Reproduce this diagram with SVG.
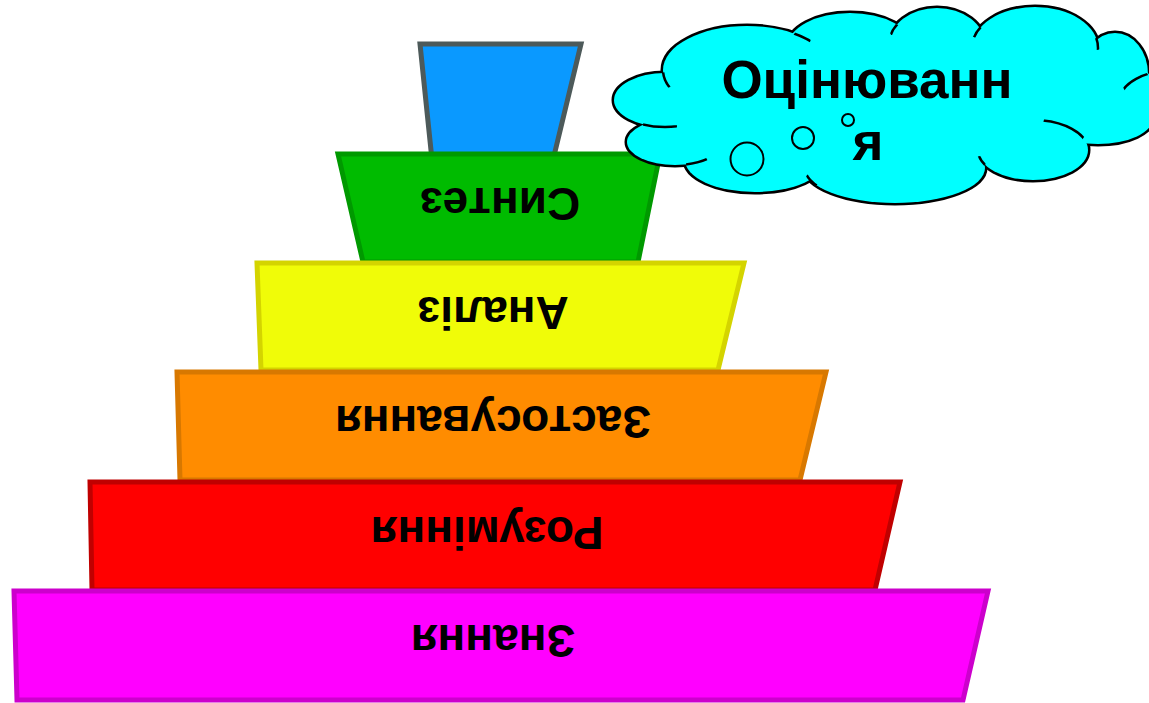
<svg xmlns="http://www.w3.org/2000/svg" width="1149" height="703" viewBox="0 0 1149 703">
<style>
.lvl{stroke-width:5;stroke-linejoin:miter}
.t{font-family:"Liberation Sans",Arial,sans-serif;font-weight:bold;font-size:46px;fill:#000;text-anchor:middle}
.ct{font-family:"Liberation Sans",Arial,sans-serif;font-weight:bold;font-size:53px;fill:#000;text-anchor:middle}
.cs{fill:none;stroke:#000;stroke-width:5}
.cf{fill:#00ffff;stroke:none}
.ca{fill:none;stroke:#000;stroke-width:2.5}
.bub{fill:#00ffff;stroke:#000;stroke-width:2}
</style>
<defs>
<ellipse id="L" cx="665" cy="100" rx="51" ry="27"/>
<ellipse id="LL" cx="675" cy="142" rx="48" ry="23"/>
<ellipse id="A" cx="755" cy="160" rx="70" ry="32"/>
<ellipse id="B" cx="895" cy="168" rx="90" ry="35"/>
<ellipse id="C" cx="1033" cy="150" rx="55" ry="30"/>
<ellipse id="RB" cx="1098" cy="118" rx="55" ry="26"/>
<ellipse id="FR" cx="1175" cy="100" rx="55" ry="30"/>
<ellipse id="R" cx="1115" cy="74" rx="33" ry="41"/>
<ellipse id="T3" cx="1035" cy="48" rx="63" ry="41"/>
<ellipse id="T2" cx="937" cy="45" rx="48" ry="37"/>
<ellipse id="T1" cx="850" cy="46" rx="62" ry="33"/>
<ellipse id="UL" cx="747" cy="70" rx="84" ry="44"/>
<g id="lobes">
<use href="#L"/><use href="#LL"/><use href="#A"/><use href="#B"/><use href="#C"/><use href="#RB"/>
<use href="#FR"/><use href="#R"/><use href="#T3"/><use href="#T2"/><use href="#T1"/><use href="#UL"/>
</g>
<clipPath id="k1"><circle cx="660" cy="126" r="17"/></clipPath>
<clipPath id="k2"><circle cx="697" cy="164" r="11"/></clipPath>
<clipPath id="k3"><circle cx="666" cy="80" r="8"/></clipPath>
<clipPath id="k4"><circle cx="802" cy="38" r="9"/></clipPath>
<clipPath id="k5"><circle cx="895" cy="30" r="6"/></clipPath>
<clipPath id="k6"><circle cx="977" cy="32" r="6"/></clipPath>
<clipPath id="k7"><circle cx="1097" cy="44" r="6"/></clipPath>
<clipPath id="k8"><circle cx="1136" cy="82" r="14"/></clipPath>
<clipPath id="k9"><circle cx="1065" cy="126" r="22"/></clipPath>
<clipPath id="k10"><circle cx="980" cy="162" r="6"/></clipPath>
<clipPath id="k11"><circle cx="812" cy="180" r="7"/></clipPath>
</defs>
<rect width="1149" height="703" fill="#fff"/>
<g id="evaluation-block">
<polygon class="lvl" points="420,44 581,44 553,160 432,160" fill="#0a99ff" stroke="#4d5a5a"/>
</g>
<g id="synthesis">
<polygon class="lvl" points="338,154 660,154 638,262 363,262" fill="#00bb00" stroke="#009900"/>
<text class="t" transform="translate(500,188) rotate(180)">Синтез</text>
</g>
<g id="analysis">
<polygon class="lvl" points="257,263 744,263 718,370 261,370" fill="#f0fc08" stroke="#d4d400"/>
<text class="t" transform="translate(493,297) rotate(180)">Аналіз</text>
</g>
<g id="application">
<polygon class="lvl" points="177,372 826,372 800,480 180,480" fill="#ff8c00" stroke="#d87800"/>
<text class="t" transform="translate(493,406) rotate(180)">Застосування</text>
</g>
<g id="understanding">
<polygon class="lvl" points="90,482 900,482 875,590 92,590" fill="#ff0000" stroke="#c00000"/>
<text class="t" transform="translate(487,517) rotate(180)">Розуміння</text>
</g>
<g id="knowledge">
<polygon class="lvl" points="14,591 988,591 963,700 17,700" fill="#ff00ff" stroke="#cc00cc"/>
<text class="t" transform="translate(493,625) rotate(180)">Знання</text>
</g>
<g id="cloud">
<use href="#lobes" class="cs"/>
<use href="#lobes" class="cf"/>
<polygon class="cf" points="665,100 675,142 755,160 895,168 1033,150 1098,118 1175,100 1115,74 1035,48 937,45 850,46 747,70"/>
<use href="#L" class="ca" clip-path="url(#k1)"/>
<use href="#LL" class="ca" clip-path="url(#k2)"/>
<use href="#UL" class="ca" clip-path="url(#k3)"/>
<use href="#UL" class="ca" clip-path="url(#k4)"/>
<use href="#T2" class="ca" clip-path="url(#k5)"/>
<use href="#T3" class="ca" clip-path="url(#k6)"/>
<use href="#T3" class="ca" clip-path="url(#k7)"/>
<use href="#FR" class="ca" clip-path="url(#k8)"/>
<use href="#C" class="ca" clip-path="url(#k9)"/>
<use href="#C" class="ca" clip-path="url(#k10)"/>
<use href="#B" class="ca" clip-path="url(#k11)"/>
<circle class="bub" cx="747" cy="159" r="16.5"/>
<circle class="bub" cx="803" cy="138" r="11"/>
<circle class="bub" cx="848" cy="120" r="6"/>
<text class="ct" x="867" y="98">Оцінюванн</text>
<text class="ct" x="868" y="160">я</text>
</g>
</svg>
